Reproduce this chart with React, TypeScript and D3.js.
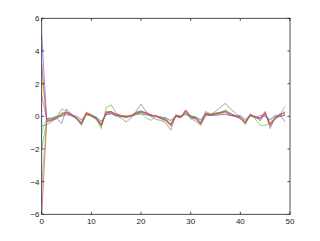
import React from "react";
import * as d3 from "d3";

const xTicks = [0, 10, 20, 30, 40, 50];
const yTicks = [-6, -4, -2, 0, 2, 4, 6];

const blue = [5.0, -0.15, -0.15, -0.05, 0.0, 0.1, 0.05, 0.0, -0.2, 0.1, 0.05, -0.05, -0.3, 0.1, 0.15, 0.05, 0.0, 0.0, 0.0, 0.1, 0.15, 0.1, 0.05, 0.0, -0.05, -0.1, -0.25, 0.0, 0.0, 0.1, 0.0, -0.05, -0.2, 0.1, 0.05, 0.05, 0.1, 0.1, 0.05, 0.0, 0.05, -0.2, 0.1, -0.1, 0.05, 0.0, -0.2, 0.05, 0.0, 0.05];
const red = [3.2, -0.3, -0.25, -0.1, 0.15, 0.25, 0.1, -0.15, -0.45, 0.2, 0.05, -0.15, -0.55, 0.25, 0.3, 0.1, 0.0, -0.05, 0.05, 0.2, 0.3, 0.2, 0.05, 0.0, -0.1, -0.2, -0.55, 0.05, -0.05, 0.4, 0.0, -0.1, -0.45, 0.2, 0.1, 0.15, 0.25, 0.3, 0.1, 0.0, -0.1, -0.4, 0.1, 0.0, -0.15, 0.2, -0.5, -0.1, 0.1, 0.25];
const yellow = [2.5, -0.2, -0.2, -0.1, 0.05, 0.15, 0.1, -0.05, -0.35, 0.1, 0.05, -0.1, -0.45, 0.15, 0.2, 0.1, 0.0, 0.0, 0.0, 0.15, 0.25, 0.1, 0.05, 0.0, -0.1, -0.15, -0.45, 0.0, -0.05, 0.2, -0.05, -0.1, -0.35, 0.15, 0.1, 0.1, 0.15, 0.2, 0.1, 0.0, -0.1, -0.3, 0.05, -0.05, -0.2, 0.1, -0.35, -0.1, 0.0, 0.1];
const magenta = [1.3, -0.2, -0.15, -0.05, 0.1, 0.2, 0.05, -0.1, -0.4, 0.15, 0.0, -0.1, -0.5, 0.2, 0.2, 0.05, 0.0, -0.05, 0.0, 0.25, 0.3, 0.15, 0.0, 0.05, -0.1, -0.25, -0.5, 0.0, -0.05, 0.3, -0.05, -0.15, -0.4, 0.2, 0.1, 0.15, 0.2, 0.25, 0.05, 0.0, -0.15, -0.35, 0.0, -0.05, -0.25, 0.15, -0.45, -0.15, 0.0, 0.1];
const gray = [-0.6, -0.5, -0.35, -0.1, -0.45, 0.45, 0.1, -0.15, -0.55, 0.2, 0.0, -0.15, -0.6, 0.3, 0.2, 0.0, -0.1, -0.35, -0.1, 0.3, 0.75, 0.3, 0.0, -0.2, -0.25, -0.4, -0.85, 0.1, 0.0, 0.2, -0.1, -0.3, -0.55, 0.0, 0.1, 0.3, 0.55, 0.8, 0.45, 0.2, -0.1, -0.5, 0.15, -0.1, -0.1, 0.3, -0.75, -0.1, 0.1, -0.35];
const cyan = [-1.0, -0.1, -0.1, 0.0, 0.05, 0.15, 0.1, 0.0, -0.25, 0.1, 0.05, -0.05, -0.35, 0.1, 0.15, 0.05, 0.05, 0.0, 0.0, 0.1, 0.2, 0.1, 0.05, 0.05, -0.05, -0.1, -0.3, 0.05, 0.0, 0.15, 0.0, -0.05, -0.25, 0.1, 0.05, 0.1, 0.1, 0.15, 0.05, 0.05, 0.0, -0.25, 0.05, -0.05, -0.1, 0.05, -0.25, 0.0, 0.05, 0.1];
const green = [-2.0, -0.3, -0.2, -0.05, 0.45, 0.3, 0.05, -0.15, -0.5, 0.1, 0.0, -0.2, -0.75, 0.55, 0.7, 0.2, 0.0, -0.1, 0.0, 0.15, 0.2, -0.1, -0.25, 0.0, -0.05, -0.15, -0.45, 0.0, -0.1, 0.3, -0.2, 0.0, -0.4, 0.3, 0.15, 0.1, 0.2, 0.35, 0.2, 0.0, -0.15, -0.35, 0.1, -0.15, -0.55, -0.55, -0.4, -0.15, 0.1, 0.6];
const green2 = [-4.3, -0.2, -0.1, 0.0, 0.25, 0.2, 0.0, -0.1, -0.45, 0.15, 0.1, -0.1, -0.6, 0.25, 0.3, 0.1, 0.05, 0.0, 0.05, 0.25, 0.35, 0.2, 0.1, 0.0, -0.15, -0.3, -0.55, 0.05, 0.0, 0.25, 0.05, -0.05, -0.45, 0.1, 0.15, 0.2, 0.25, 0.4, 0.15, 0.05, -0.05, -0.45, 0.05, 0.0, -0.3, 0.15, -0.55, -0.2, 0.05, 0.3];
const red2 = [-6.0, -0.35, -0.25, -0.15, 0.1, 0.25, 0.15, -0.1, -0.4, 0.25, 0.1, -0.1, -0.5, 0.2, 0.25, 0.15, 0.05, 0.0, 0.05, 0.2, 0.25, 0.25, 0.1, 0.0, -0.15, -0.25, -0.6, 0.0, -0.1, 0.35, -0.05, -0.15, -0.5, 0.15, 0.05, 0.2, 0.2, 0.3, 0.15, 0.05, -0.05, -0.35, 0.05, -0.05, -0.1, 0.25, -0.6, -0.05, 0.15, 0.2];

const series = [
  { values: cyan, color: "#55e0e0" },
  { values: green2, color: "#66d066" },
  { values: yellow, color: "#e0e020" },
  { values: magenta, color: "#c060e0" },
  { values: gray, color: "#808080" },
  { values: blue, color: "#5566ff" },
  { values: green, color: "#44cc44" },
  { values: red2, color: "#ee4444" },
  { values: red, color: "#ee3333" },
];

export default function App() {
  const W = 320, H = 241;
  const left = 41.7, right = 290, top = 18.3, bottom = 214.3;
  const x = d3.scaleLinear().domain([0, 50]).range([left, right]);
  const y = d3.scaleLinear().domain([-6, 6]).range([bottom, top]);
  const line = d3.line<number>().x((_, i) => x(i)).y((d) => y(d));
  const tl = 2.5;
  const axisColor = "#222";
  const font = "'Liberation Sans', Arial, sans-serif";
  return (
    <svg width={W} height={H} style={{ position: "absolute", left: 0, top: 0, background: "#fff" }}>
      <rect x={0} y={0} width={W} height={H} fill="#fff" />
      <defs>
        <clipPath id="plot">
          <rect x={left} y={top} width={right - left} height={bottom - top} />
        </clipPath>
      </defs>
      <g clipPath="url(#plot)">
        {series.map((s, i) => (
          <path key={i} d={line(s.values) || ""} fill="none" stroke={s.color} strokeWidth={0.7} />
        ))}
      </g>
      <rect x={left} y={top} width={right - left} height={bottom - top} fill="none" stroke={axisColor} strokeWidth={0.8} />
      {xTicks.map((t) => (
        <g key={"x" + t}>
          <line x1={x(t)} x2={x(t)} y1={bottom} y2={bottom - tl} stroke={axisColor} strokeWidth={0.8} />
          <line x1={x(t)} x2={x(t)} y1={top} y2={top + tl} stroke={axisColor} strokeWidth={0.8} />
          <text x={x(t)} y={223.5} fontSize={8} fontFamily={font} textAnchor="middle" fill="#222">
            {t}
          </text>
        </g>
      ))}
      {yTicks.map((t) => (
        <g key={"y" + t}>
          <line x1={left} x2={left + tl} y1={y(t)} y2={y(t)} stroke={axisColor} strokeWidth={0.8} />
          <line x1={right} x2={right - tl} y1={y(t)} y2={y(t)} stroke={axisColor} strokeWidth={0.8} />
          <text x={39.5} y={y(t) + 2.9} fontSize={8} fontFamily={font} textAnchor="end" fill="#222">
            {t < 0 ? "\u2212" + Math.abs(t) : String(t)}
          </text>
        </g>
      ))}
    </svg>
  );
}
